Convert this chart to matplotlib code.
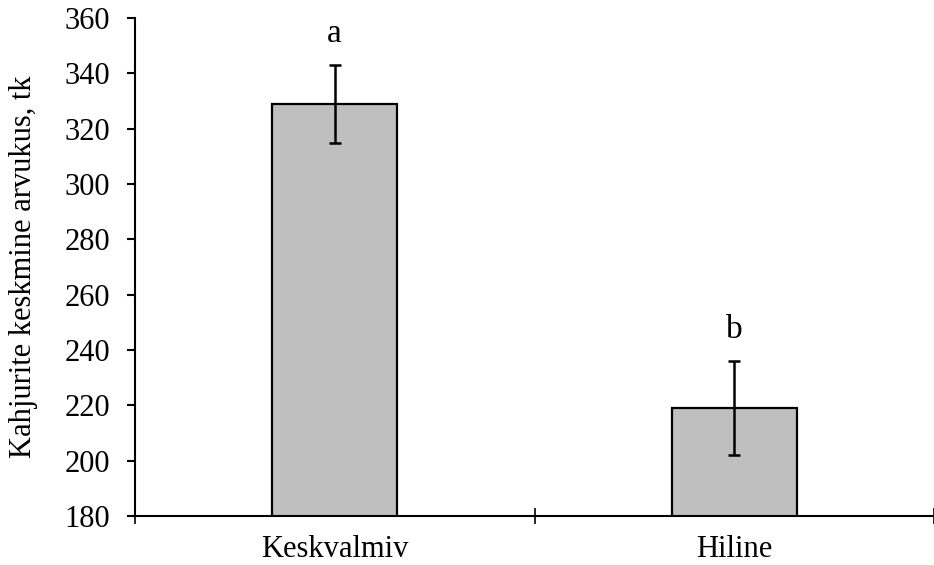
import matplotlib
matplotlib.use("Agg")
import matplotlib.pyplot as plt
from matplotlib.ticker import FixedLocator

categories = ["Keskvalmiv", "Hiline"]
means = [329, 219]
errors = [14, 17]
letters = ["a", "b"]
y_ticks = [180, 200, 220, 240, 260, 280, 300, 320, 340, 360]

plt.rcParams["font.family"] = ["Liberation Serif", "DejaVu Serif"]

fig = plt.figure(figsize=(9.34, 5.65), dpi=100)
ax = fig.add_axes([135 / 934, 49 / 565, 799 / 934, 498 / 565])

x = list(range(len(categories)))
ax.bar(x, means, width=0.314, color="#bfbfbf", edgecolor="black", linewidth=1.6, zorder=2)
ax.errorbar(x, means, yerr=errors, fmt="none", ecolor="black", elinewidth=1.8,
            capsize=4.5, capthick=1.8, zorder=3)

for xi, m, e, lab in zip(x, means, errors, letters):
    ax.text(xi, m + e + 8.5, lab, ha="center", va="baseline", fontsize=24)

ax.set_xlim(-0.5, 1.5)
ax.set_ylim(180, 360)
ax.set_yticks(y_ticks)
ax.set_xticks(x)
ax.set_xticklabels(categories, fontsize=22)
ax.tick_params(axis="x", which="major", length=0, pad=14)
ax.xaxis.set_minor_locator(FixedLocator([-0.5, 0.5, 1.5]))
ax.tick_params(axis="x", which="minor", direction="inout", length=12, width=1.2)
ax.tick_params(axis="y", direction="out", length=6, width=1.5, labelsize=22, pad=12)

for side in ["top", "right"]:
    ax.spines[side].set_visible(False)
ax.spines["left"].set_linewidth(1.5)
ax.spines["bottom"].set_linewidth(1.5)

ax.set_ylabel("Kahjurite keskmine arvukus, tk", fontsize=22, labelpad=19)

fig.savefig("out.png", dpi=100)
